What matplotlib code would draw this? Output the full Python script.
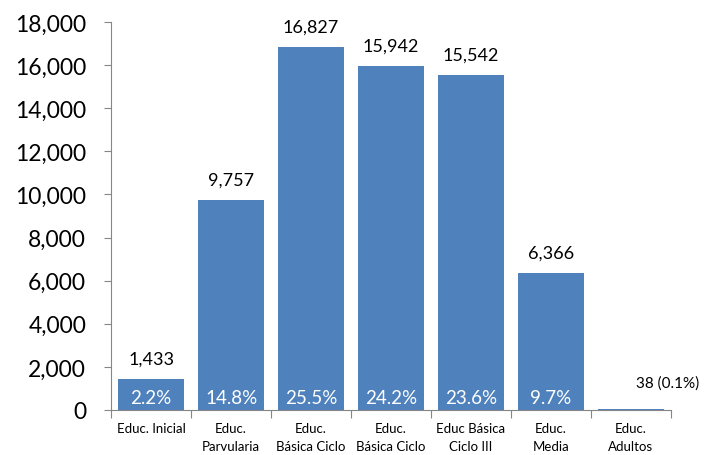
import matplotlib.pyplot as plt
from matplotlib.ticker import FuncFormatter

plt.rcParams['font.family'] = ['Lato', 'DejaVu Sans']

categories = ['Educ. Inicial', 'Educ.\nParvularia', 'Educ.\nBásica Ciclo',
              'Educ.\nBásica Ciclo', 'Educ Básica\nCiclo III', 'Educ.\nMedia',
              'Educ.\nAdultos']
values = [1433, 9757, 16827, 15942, 15542, 6366, 38]
percents = ['2.2%', '14.8%', '25.5%', '24.2%', '23.6%', '9.7%', '0.1%']

bar_color = '#4f81bd'
axis_color = '#868686'

fig = plt.figure(figsize=(7.04, 4.56), dpi=100)
ax = fig.add_axes([0.158, 0.0987, 0.795, 0.851])

x = range(len(categories))
bars = ax.bar(x, values, width=0.83, color=bar_color)

for i, (v, p) in enumerate(zip(values, percents)):
    if v < 500:
        ax.annotate(f'{v:,} ({p})', (i + 0.06, v), xytext=(0, 14),
                    textcoords='offset points', ha='left', va='bottom', fontsize=11)
    else:
        ax.annotate(f'{v:,}', (i, v), xytext=(0, 9), textcoords='offset points',
                    ha='center', va='bottom', fontsize=13)
        ax.annotate(p, (i, 0), xytext=(0, 3), textcoords='offset points',
                    ha='center', va='bottom', fontsize=13.5, color='white')

ax.set_xlim(-0.5, len(categories) - 0.5)
ax.set_ylim(0, 18000)
ax.set_yticks(range(0, 18001, 2000))
ax.yaxis.set_major_formatter(FuncFormatter(lambda v, _: f'{int(v):,}'))
ax.tick_params(axis='y', labelsize=16.5, length=5, color=axis_color, pad=13)

ax.set_xticks([i - 0.5 for i in range(len(categories) + 1)])
ax.set_xticklabels([])
ax.set_xticks(list(x), minor=True)
ax.set_xticklabels(categories, minor=True, fontsize=9.5, linespacing=1.55, va='top')
ax.tick_params(axis='x', which='major', length=6, color=axis_color)
ax.tick_params(axis='x', which='minor', length=0, pad=9)

for side in ['top', 'right']:
    ax.spines[side].set_visible(False)
for side in ['left', 'bottom']:
    ax.spines[side].set_color(axis_color)

fig.savefig('out.png', dpi=100)
